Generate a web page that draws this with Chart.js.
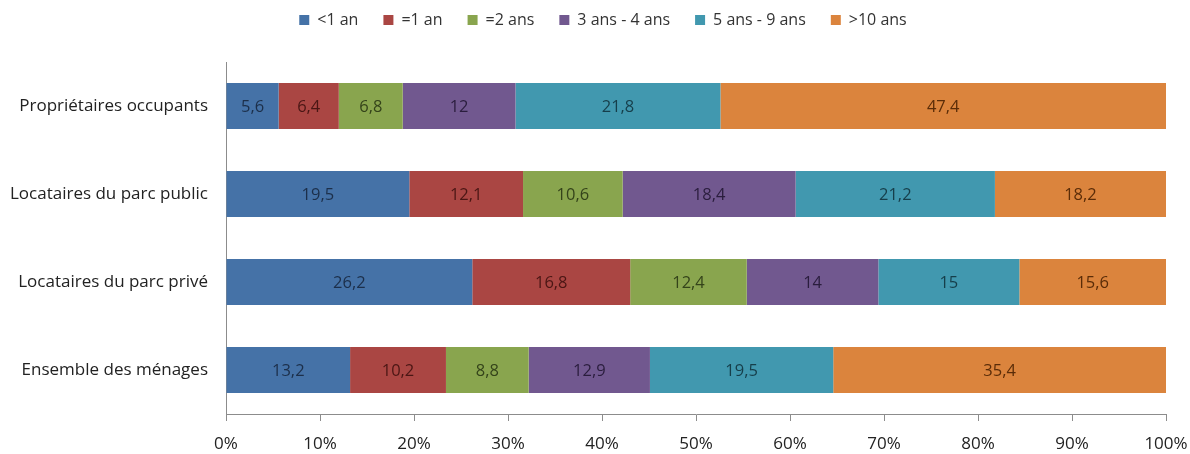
<!DOCTYPE html>
<html>
<head>
<meta charset="utf-8">
<script src="https://cdn.jsdelivr.net/npm/chart.js@4/dist/chart.umd.min.js"></script>
<style>
    html, body { margin: 0; padding: 0; background: #fff; }
    #wrap { width: 1190px; height: 454px; }
</style>
</head>
<body>
<div id="wrap"><canvas id="chart" width="1190" height="454"></canvas></div>
<script>
// Data
const categories = [
    'Propriétaires occupants',
    'Locataires du parc public',
    'Locataires du parc privé',
    'Ensemble des ménages',
];
const seriesNames = ['<1 an', '=1 an', '=2 ans', '3 ans - 4 ans', '5 ans - 9 ans', '>10 ans'];
const lessOneYear = [5.6, 19.5, 26.2, 13.2];
const oneYear = [6.4, 12.1, 16.8, 10.2];
const twoYears = [6.8, 10.6, 12.4, 8.8];
const threeFourYears = [12, 18.4, 14, 12.9];
const fiveNineYears = [21.8, 21.2, 15, 19.5];
const moreTenYears = [47.4, 18.2, 15.6, 35.4];
const xTicks = [0, 10, 20, 30, 40, 50, 60, 70, 80, 90, 100];

// Styles
const fills = ['#4572A7', '#AA4643', '#89A54E', '#71588F', '#4198AF', '#DB843D'];
const textColors = ['#1c2f4a', '#4a1614', '#34431a', '#2a1d3d', '#163e4a', '#5a2c08'];
const fontFamily = '"Open Sans", Lato, sans-serif';

const valueLabels = {
    id: 'valueLabels',
    afterDatasetsDraw(chart) {
        const { ctx } = chart;
        ctx.save();
        ctx.font = `16.5px ${fontFamily}`;
        ctx.textAlign = 'center';
        ctx.textBaseline = 'middle';
        chart.data.datasets.forEach((ds, i) => {
            chart.getDatasetMeta(i).data.forEach((bar, j) => {
                const cx = (bar.x + bar.base) / 2;
                ctx.fillStyle = textColors[i];
                ctx.fillText(String(ds.data[j]).replace('.', ','), cx, bar.y + 1);
            });
        });
        ctx.restore();
    },
};

// legend sits high, plot starts at ~62px, legend nudged right
const legendSpacing = {
    id: 'legendSpacing',
    beforeInit(chart) {
        const origFit = chart.legend.fit;
        chart.legend.fit = function fit() {
            origFit.bind(chart.legend)();
            this.height = 75;
        };
    },
    afterLayout(chart) {
        chart.legend.left += 20;
        chart.legend.right += 20;
    },
};

const allSeries = [lessOneYear, oneYear, twoYears, threeFourYears, fiveNineYears, moreTenYears];
const datasets = allSeries.map((data, i) => ({
    label: seriesNames[i],
    data,
    backgroundColor: fills[i],
    borderWidth: 0,
    categoryPercentage: 1,
    barPercentage: 0.52,
}));

const ctx = document.getElementById('chart').getContext('2d');

// eslint-disable-next-line no-new
new Chart(ctx, {
    type: 'bar',
    data: { labels: categories, datasets },
    plugins: [valueLabels, legendSpacing],
    options: {
        indexAxis: 'y',
        responsive: false,
        animation: false,
        layout: { padding: { left: 0, right: 24, top: -13, bottom: 0 } },
        plugins: {
            tooltip: { enabled: false },
            legend: {
                position: 'top',
                labels: {
                    boxWidth: 10,
                    boxHeight: 10,
                    padding: 25,
                    color: '#333',
                    font: { family: fontFamily, size: 16 },
                },
            },
        },
        scales: {
            x: {
                stacked: true,
                min: 0,
                max: 100,
                afterBuildTicks(scale) {
                    scale.ticks = xTicks.map((v) => ({ value: v }));
                },
                afterFit(scale) {
                    scale.paddingLeft = 0;
                    scale.paddingRight = 0;
                    scale.height = 40;
                },
                grid: {
                    drawOnChartArea: false,
                    drawTicks: true,
                    tickLength: 7,
                    color: '#8c8c8c',
                },
                border: { color: '#8c8c8c', width: 1 },
                ticks: {
                    padding: 13,
                    color: '#222',
                    font: { family: fontFamily, size: 17 },
                    callback: (v) => `${v}%`,
                },
            },
            y: {
                stacked: true,
                grid: { display: false, drawTicks: false },
                border: { color: '#8c8c8c', width: 1 },
                afterFit(scale) { scale.width = 226; },
                ticks: {
                    padding: 18,
                    color: '#222',
                    font: { family: fontFamily, size: 17 },
                },
            },
        },
    },
});
</script>
</body>
</html>
